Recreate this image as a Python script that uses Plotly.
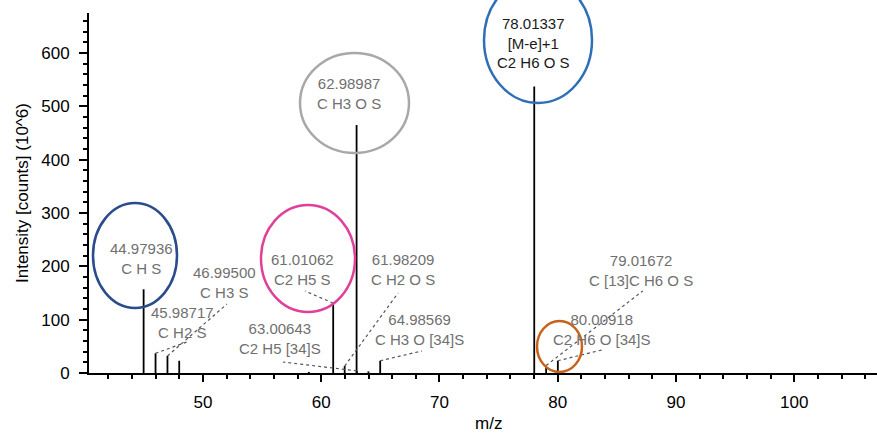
import plotly.graph_objects as go

# ---------------- data ----------------
peak_mz = [44.97936, 45.98717, 46.99500, 47.99, 58.95, 61.01062, 61.98209,
           62.98987, 63.00643, 63.99, 64.98569, 78.01337, 79.01672, 80.00918]
peak_intensity = [157, 37, 32, 23, 2, 131, 13, 465, 4, 3, 23, 537, 14, 23]

label_mz = [44.97936, 45.98717, 46.99500, 61.01062, 61.98209, 62.98987,
            63.00643, 64.98569, 78.01337, 79.01672, 80.00918]
label_text = ["44.97936", "45.98717", "46.99500", "61.01062", "61.98209",
              "62.98987", "63.00643", "64.98569", "78.01337", "79.01672",
              "80.00918"]
label_note = ["", "", "", "", "", "", "", "", "[M-e]+1", "", ""]
label_formula = ["C H S", "C H2 S", "C H3 S", "C2 H5 S", "C H2 O S", "C H3 O S",
                 "C2 H5 [34]S", "C H3 O [34]S", "C2 H6 O S", "C [13]C H6 O S",
                 "C2 H6 O [34]S"]

x_ticks = [50, 60, 70, 80, 90, 100]
y_ticks = [0, 100, 200, 300, 400, 500, 600]

# ---------------- layout constants (positions / styles) ----------------
X_RANGE = [40.36, 107.0]
Y_RANGE = [0, 675]
# label anchor positions (data coordinates)
label_pos_x = [44.84, 48.26, 51.86, 58.45, 66.90, 62.34, 56.50, 68.34, 77.98, 87.02, 83.72]
label_pos_y = [215.6, 94.7, 170.6, 194.1, 194.1, 525.0, 63.8, 81.6, 617.9, 191.3, 81.6]
label_color = ["#707070"] * 8 + ["#1a1a1a"] + ["#707070"] * 2
# leader end points (None = no leader)
leader_end_x = [None, 48.64, 52.03, 58.62, 66.50, None, 56.76, 68.51, None, 87.19, 83.72]
leader_end_y = [None, 58.1, 129.4, 153.8, 150.0, None, 20.6, 41.3, None, 153.8, 43.1]

# highlight ellipses, pixel boxes (x0, x1, ytop, ybottom) and colors
PLOT_L, PLOT_W, AXIS_Y, PLOT_H = 89, 788, 373, 360
ellipses = [
    ((93, 177, 203, 308), "#2b4c8c"),
    ((261, 355, 205, 312), "#e0409a"),
    ((300, 409, 53, 153), "#a8a8a8"),
    ((484, 592, -23, 103), "#2f6fb5"),
    ((537, 582, 321, 372), "#c8621a"),
]

FONT = "Liberation Sans, Arial, sans-serif"

fig = go.Figure()

# stems
sx, sy = [], []
for m, h in zip(peak_mz, peak_intensity):
    sx += [m, m, None]
    sy += [0, h, None]
fig.add_trace(go.Scatter(x=sx, y=sy, mode="lines",
                         line=dict(color="black", width=1.8),
                         hoverinfo="skip", showlegend=False))

shapes = []
annotations = []
peak_lookup = dict(zip(peak_mz, peak_intensity))
for i, m in enumerate(label_mz):
    lines = [label_text[i]]
    if label_note[i]:
        lines.append(label_note[i])
    lines.append(label_formula[i])
    annotations.append(dict(
        x=label_pos_x[i], y=label_pos_y[i], xref="x", yref="y",
        text="<br>".join(lines), showarrow=False,
        font=dict(family=FONT, size=15, color=label_color[i]),
        xanchor="center", yanchor="middle", align="center"))
    if leader_end_x[i] is not None:
        shapes.append(dict(type="line", xref="x", yref="y",
                           x0=m, y0=peak_lookup[m],
                           x1=leader_end_x[i], y1=leader_end_y[i],
                           line=dict(color="#555555", width=1.2, dash="dot")))


def px2paper_x(p):
    return (p - PLOT_L) / PLOT_W


def px2paper_y(p):
    return (AXIS_Y - p) / PLOT_H


for (x0, x1, yt, yb), col in ellipses:
    shapes.append(dict(type="circle", xref="paper", yref="paper",
                       x0=px2paper_x(x0), x1=px2paper_x(x1),
                       y0=px2paper_y(yb), y1=px2paper_y(yt),
                       line=dict(color=col, width=2.5)))

# axis titles
annotations.append(dict(x=px2paper_x(22), y=px2paper_y(193), xref="paper", yref="paper",
                        text="Intensity [counts] (10^6)", textangle=-90, showarrow=False,
                        font=dict(family=FONT, size=17, color="black"),
                        xanchor="center", yanchor="middle"))
annotations.append(dict(x=px2paper_x(488), y=px2paper_y(423), xref="paper", yref="paper",
                        text="m/z", showarrow=False,
                        font=dict(family=FONT, size=17, color="black"),
                        xanchor="center", yanchor="middle"))

fig.update_layout(
    width=877, height=434,
    margin=dict(l=89, r=0, t=13, b=61),
    plot_bgcolor="white", paper_bgcolor="white",
    showlegend=False,
    shapes=shapes, annotations=annotations,
    xaxis=dict(range=X_RANGE, showline=True, linecolor="black", linewidth=2,
               ticks="outside", ticklen=7, tickwidth=1.5, tickcolor="black",
               tickvals=x_ticks, ticktext=[str(v) for v in x_ticks],
               minor=dict(dtick=2, tick0=0, ticks="outside", ticklen=4,
                          tickwidth=1.5, tickcolor="black", showgrid=False),
               showgrid=False, zeroline=False,
               tickfont=dict(family=FONT, size=17, color="black"),
               ticklabelstandoff=6),
    yaxis=dict(range=Y_RANGE, showline=True, linecolor="black", linewidth=2,
               ticks="outside", ticklen=8, tickwidth=1.5, tickcolor="black",
               tickvals=y_ticks, ticktext=[str(v) for v in y_ticks],
               minor=dict(dtick=20, tick0=0, ticks="outside", ticklen=4,
                          tickwidth=1.5, tickcolor="black", showgrid=False),
               showgrid=False, zeroline=False,
               tickfont=dict(family=FONT, size=17, color="black"),
               ticklabelstandoff=6),
)

fig.write_html("out.html")
